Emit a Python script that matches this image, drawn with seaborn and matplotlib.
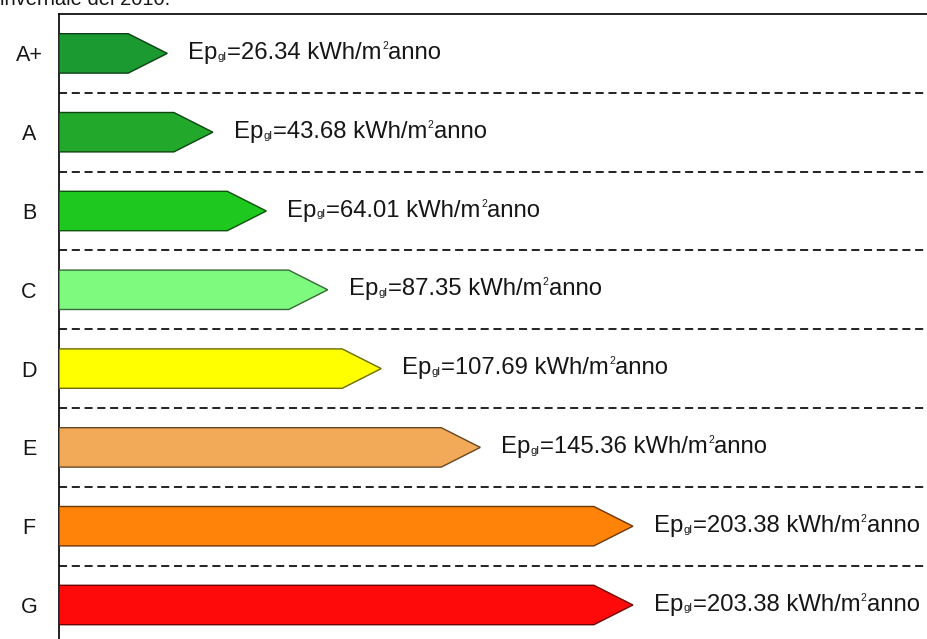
import numpy as np
import pandas as pd
import matplotlib
matplotlib.use("Agg")
import matplotlib.pyplot as plt
from matplotlib.patches import Polygon
from matplotlib.colors import to_rgb
import seaborn as sns

# ---- data ----
classes = ["A+", "A", "B", "C", "D", "E", "F", "G"]
values = [26.34, 43.68, 64.01, 87.35, 107.69, 145.36, 203.38, 203.38]
colors = ["#1c9a32", "#22a82a", "#1ec81e", "#7efa7e", "#ffff00", "#f2aa58", "#ff8308", "#ff0a0a"]
title_text = "invernale del 2010."
label_prefix = "Ep"
label_sub = "gl"
label_unit = "kWh/m"
label_sup = "2"
label_suffix = "anno"

sns.set_theme(style="white")
plt.rcParams['font.family'] = ['Liberation Sans', 'DejaVu Sans']
plt.rcParams['lines.scale_dashes'] = False

W, H = 927, 639
fig = plt.figure(figsize=(W / 100, H / 100), dpi=100)
px_per_unit = 2.63
left_px, top_px = 59, 14
row_px = 78.8
right_px = 960
bottom_px = top_px + row_px * len(classes)
ax = fig.add_axes([left_px / W, 1 - bottom_px / H,
                   (right_px - left_px) / W, (bottom_px - top_px) / H])

df = pd.DataFrame({"cls": classes, "val": values})
sns.barplot(data=df, x="val", y="cls", hue="cls", palette=colors, orient="h",
            width=0.5, linewidth=0, legend=False, ax=ax, zorder=2)

head = 39 / px_per_unit
gap = 21 / px_per_unit
fs, fs_sub, fs_sup = 17.2, 8.2, 7.5
tc = "#161616"
for i, (v, c) in enumerate(zip(values, colors)):
    rgb = np.array(to_rgb(c))
    edge = tuple(rgb * 0.42)
    pts = [(0, i - 0.25), (v, i - 0.25), (v + head, i), (v, i + 0.25), (0, i + 0.25)]
    ax.add_patch(Polygon(pts, closed=True, facecolor=c, edgecolor=edge,
                         linewidth=1.0, zorder=3))
    yb = i + 0.07
    t = ax.text(v + head + gap, yb, label_prefix, ha="left", va="baseline",
                fontsize=fs, color=tc, zorder=4)
    pieces = [(label_sub, fs_sub, 0.2, -0.6),
              (f"={v:.2f} {label_unit}", fs, 0.2, 0.0),
              (label_sup, fs_sup, 0.3, 7.2),
              (label_suffix, fs, 0.2, 0.0)]
    for s, size, dx, dy in pieces:
        t = ax.annotate(s, xy=(1, yb), xycoords=(t, "data"), xytext=(dx, dy),
                        textcoords="offset points", ha="left", va="baseline",
                        fontsize=size, color=tc, zorder=4, annotation_clip=False)

for i in range(len(classes) - 1):
    ax.axhline(i + 0.5, color="#222222", linewidth=1.4, linestyle=(0, (5.8, 3.4)), zorder=1)

ax.set_xlim(0, (right_px - left_px) / px_per_unit)
ax.set_ylim(len(classes) - 0.5, -0.5)
ax.set_xlabel("")
ax.set_ylabel("")
ax.set_xticks([])
ax.tick_params(axis="y", length=0, pad=21.6, labelsize=15.5, labelcolor=tc)
for lab in ax.get_yticklabels():
    lab.set_horizontalalignment("center")
for s in ["right", "bottom"]:
    ax.spines[s].set_visible(False)
for s in ["left", "top"]:
    ax.spines[s].set_visible(True)
    ax.spines[s].set_color("#111111")
    ax.spines[s].set_linewidth(1.3)

fig.text(0.0, 1 - 5 / H, title_text, ha="left", va="baseline", fontsize=14.5, color=tc)

fig.savefig("out.png", dpi=100)
